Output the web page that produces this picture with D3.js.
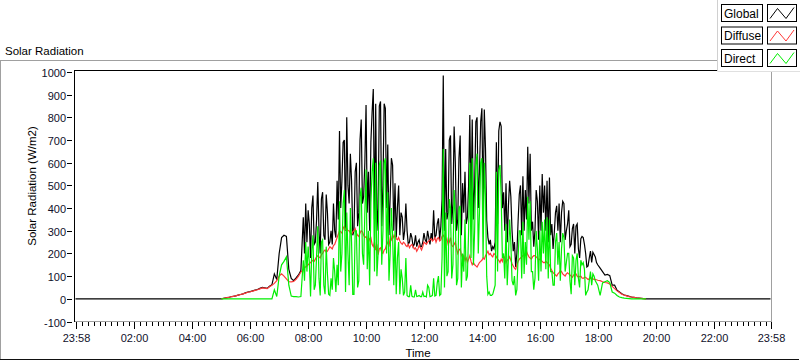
<!DOCTYPE html>
<html><head><meta charset="utf-8">
<script src="https://cdn.jsdelivr.net/npm/d3@7"></script>
<style>
body{margin:0;background:#fff;}
svg{display:block;font-family:"Liberation Sans",Arial,sans-serif;}
</style>
</head><body>
<svg id="c" width="800" height="361"></svg>
<script>
// ---------------- data ----------------
const seriesNames = ["Global", "Diffuse", "Direct"];
const seriesColors = ["#000000", "#ff3838", "#00ee00"];
const yTickValues = [-100, 0, 100, 200, 300, 400, 500, 600, 700, 800, 900, 1000];
const xTickLabels = ["23:58", "02:00", "04:00", "06:00", "08:00", "10:00", "12:00", "14:00", "16:00", "18:00", "20:00", "22:00", "23:58"];
const xTickMinutes = [-2, 120, 240, 360, 480, 600, 720, 840, 960, 1080, 1200, 1320, 1438];
const dayStartMinute = -2, dayEndMinute = 1438;
// sampling segments (minutes of day): 05:00-07:45 every 5 min, 07:50-17:57.5 every 2.5 min, 18:00-19:40 every 5 min
const sampleSegments = [
  { start: 300, step: 5, count: 34 },
  { start: 470, step: 2.5, count: 244 },
  { start: 1080, step: 5, count: 21 }
];

const globalRad = [
  // 05:00-07:45
  0, 2, 4, 6, 9, 11, 13, 16, 19, 22, 26, 30,
  32, 35, 38, 41, 46, 50, 48, 46, 55, 62, 110, 85,
  200, 270, 280, 275, 130, 90, 80, 92, 105, 125,
  // 07:50-07:57.5
  360, 200, 420, 250,
  // 08
  390, 330, 180, 400, 455, 240, 250, 350, 515, 300, 200, 440, 470, 280, 260, 460, 380, 240, 250, 300, 240, 420, 300, 270,
  // 09
  520, 350, 740, 400, 520, 690, 700, 300, 800, 500, 420, 640, 520, 280, 300, 560, 600, 320, 380, 700, 790, 420, 450, 600,
  // 10
  855, 380, 560, 300, 690, 820, 925, 350, 860, 300, 400, 850, 870, 320, 500, 860, 840, 400, 680, 280, 450, 620, 590, 300,
  // 11
  510, 270, 400, 500, 280, 380, 360, 260, 300, 420, 300, 240, 250, 290, 270, 230, 240, 280, 230, 250, 260, 230, 230, 250,
  // 12
  290, 260, 250, 300, 270, 240, 290, 260, 390, 270, 280, 330, 355, 260, 320, 440, 985, 300, 660, 350, 380, 700, 720, 330,
  // 13
  420, 760, 600, 300, 350, 620, 720, 280, 510, 380, 560, 330, 360, 500, 810, 400, 790, 350, 500, 780, 800, 400, 560, 780,
  // 14
  840, 380, 835, 660, 345, 270, 240, 260, 210, 230, 220, 250, 690, 330, 740, 780, 760, 400, 470, 300, 510, 250, 410, 520,
  // 15
  450, 300, 210, 250, 140, 200, 340, 460, 500, 280, 540, 300, 480, 350, 670, 420, 640, 300, 340, 230, 300, 480, 430, 260,
  // 16
  500, 300, 550, 380, 500, 300, 520, 250, 535, 280, 330, 220, 290, 380, 410, 300, 420, 250, 380, 430, 420, 260, 300, 330,
  // 17
  390, 230, 240, 310, 330, 200, 320, 330, 220, 180, 265, 275, 270, 240, 200, 140, 145, 180, 210, 160, 205, 195, 185, 160,
  // 18:00-19:40
  150, 135, 120, 105, 108, 102, 60, 60, 38, 30, 22, 17,
  14, 11, 8, 6, 4, 3, 2, 1, 0
];
const diffuseRad = [
  0, 2, 4, 6, 9, 11, 13, 16, 19, 22, 25, 29,
  31, 34, 37, 40, 44, 48, 47, 45, 53, 60, 68, 80,
  100, 110, 100, 88, 76, 75, 77, 86, 100, 118,
  130, 135, 142, 145,
  150, 155, 160, 165, 170, 165, 175, 185, 190, 185, 180, 195, 200, 210, 215, 205, 210, 220, 230, 225, 220, 235, 240, 255,
  270, 285, 300, 295, 290, 310, 320, 305, 310, 300, 300, 290, 285, 295, 300, 310, 290, 280, 275, 290, 300, 295, 280, 270,
  275, 260, 250, 265, 270, 240, 230, 250, 215, 240, 195, 220, 225, 205, 200, 215, 220, 240, 250, 230, 270, 260, 285, 270,
  280, 265, 260, 270, 255, 245, 240, 250, 245, 235, 230, 240, 225, 235, 240, 230, 220, 225, 210, 220, 235, 225, 215, 230,
  250, 245, 240, 250, 255, 260, 265, 255, 260, 270, 250, 265, 270, 255, 260, 275, 280, 270, 255, 265, 240, 250, 270, 235,
  230, 240, 250, 220, 200, 215, 220, 195, 180, 190, 170, 180, 160, 175, 190, 165, 150, 160, 150, 145, 140, 150, 160, 165,
  170, 180, 175, 190, 200, 210, 195, 200, 190, 185, 200, 195, 185, 175, 170, 160, 175, 165, 190, 180, 160, 170, 175, 185,
  170, 155, 145, 135, 130, 150, 165, 175, 180, 185, 190, 195, 200, 210, 195, 185, 180, 175, 185, 190, 190, 185, 180, 170,
  175, 170, 165, 160, 160, 165, 160, 155, 150, 135, 125, 115, 110, 105, 100, 110, 115, 125, 120, 110, 105, 100, 110, 115,
  110, 105, 100, 95, 105, 110, 110, 100, 95, 98, 100, 92, 90, 95, 95, 90, 85, 88, 90, 92, 88, 86, 85, 84,
  82, 80, 75, 72, 70, 65, 55, 45, 35, 28, 20, 16,
  13, 10, 8, 6, 4, 3, 2, 1, 0
];
const directRad = [
  0, 0, 0, 0, 0, 0, 0, 0, 0, 0, 0, 0,
  0, 0, 0, 0, 0, 0, 0, 0, 0, 0, 40, 10,
  100, 150, 165, 185, 60, 12, 10, 10, 8, 10,
  170, 80, 250, 120,
  230, 160, 10, 210, 280, 40, 60, 190, 320, 90, 15, 250, 260, 60, 20, 230, 110, 20, 15, 90, 40, 180, 120, 30,
  150, 60, 430, 120, 200, 420, 480, 30, 380, 200, 60, 400, 250, 20, 20, 300, 300, 50, 80, 450, 490, 200, 150, 380,
  570, 130, 300, 60, 420, 560, 620, 120, 600, 100, 200, 590, 610, 150, 300, 600, 620, 200, 470, 80, 200, 400, 280, 60,
  300, 20, 180, 250, 20, 130, 90, 15, 30, 180, 15, 10, 10, 60, 12, 8, 8, 40, 10, 12, 15, 10, 10, 30,
  10, 12, 8, 60, 50, 10, 12, 15, 90, 12, 15, 70, 100, 15, 20, 180, 660, 50, 380, 100, 120, 440, 400, 90,
  150, 480, 370, 60, 90, 400, 410, 50, 200, 120, 350, 80, 100, 300, 600, 180, 620, 150, 300, 590, 640, 200, 380, 600,
  620, 180, 600, 450, 100, 20, 30, 15, 15, 20, 40, 60, 560, 120, 570, 590, 450, 180, 200, 90, 330, 60, 180, 350,
  250, 80, 60, 100, 15, 40, 180, 300, 300, 90, 340, 110, 250, 150, 450, 260, 430, 120, 120, 40, 90, 300, 220, 80,
  300, 120, 340, 200, 350, 130, 360, 90, 350, 120, 120, 60, 60, 250, 290, 150, 250, 80, 220, 290, 270, 120, 160, 200,
  200, 80, 20, 190, 180, 60, 170, 200, 90, 50, 170, 150, 160, 130, 15, 30, 40, 80, 120, 60, 110, 100, 80, 70,
  60, 15, 70, 75, 80, 72, 30, 25, 15, 8, 5, 3,
  2, 1, 0, 0, 0, 0, 0, 0, 0
];

// ---------------- drawing ----------------
const svg = d3.select("#c");
const grey = "#a0a0a0";
const textCol = "#10102a";

const x = d3.scaleLinear().domain([dayStartMinute, dayEndMinute]).range([75.5, 770.5]);
const y = d3.scaleLinear().domain([-100, 1000]).range([321.5, 72]);

const sampleMinutes = [];
sampleSegments.forEach(s => { for (let i = 0; i < s.count; i++) sampleMinutes.push(s.start + i * s.step); });

function toPoints(arr) {
  return arr.map((v, i) => ({ m: sampleMinutes[i], v: v }));
}
const globalPts = [{ m: dayStartMinute, v: 0 }]
  .concat(toPoints(globalRad))
  .concat([{ m: dayEndMinute, v: 0 }]);
const diffusePts = toPoints(diffuseRad);
const directPts = toPoints(directRad);

// outer frame
svg.append("line").attr("x1", 0).attr("x2", 717).attr("y1", 60.5).attr("y2", 60.5).attr("stroke", grey);
svg.append("line").attr("x1", 0.5).attr("x2", 0.5).attr("y1", 60.5).attr("y2", 359).attr("stroke", grey);
svg.append("line").attr("x1", 0).attr("x2", 799).attr("y1", 359.5).attr("y2", 359.5).attr("stroke", "#111");

svg.append("text").attr("x", 5).attr("y", 55).attr("font-size", "11.5px").attr("fill", "#000").text("Solar Radiation");

// plot frame
svg.append("line").attr("x1", 74).attr("x2", 772).attr("y1", 70.5).attr("y2", 70.5).attr("stroke", "#000");
svg.append("line").attr("x1", 74.5).attr("x2", 74.5).attr("y1", 70).attr("y2", 322).attr("stroke", "#000");
svg.append("line").attr("x1", 771.5).attr("x2", 771.5).attr("y1", 71).attr("y2", 322).attr("stroke", grey);
svg.append("line").attr("x1", 75).attr("x2", 772).attr("y1", 321.5).attr("y2", 321.5).attr("stroke", grey);

// y axis ticks
const yAxis = svg.append("g");
yTickValues.forEach(v => {
  const yy = Math.round(y(v)) + 0.5;
  yAxis.append("line").attr("x1", 67).attr("x2", 72).attr("y1", yy).attr("y2", yy).attr("stroke", "#000");
  yAxis.append("text").attr("x", 66).attr("y", yy + 4).attr("text-anchor", "end")
    .attr("font-size", "11px").attr("fill", textCol).text(v);
});

// x axis ticks
const xAxis = svg.append("g");
for (let m = 12; m < 1440; m += 12) {
  if (m % 120 === 0) continue;
  const xx = Math.round(x(m)) + 0.5;
  xAxis.append("line").attr("x1", xx).attr("x2", xx).attr("y1", 322).attr("y2", 326).attr("stroke", "#000");
}
xTickMinutes.forEach((m, i) => {
  const xx = Math.round(x(m)) + 0.5;
  xAxis.append("line").attr("x1", xx).attr("x2", xx).attr("y1", 322).attr("y2", 329).attr("stroke", "#000");
  xAxis.append("text").attr("x", xx).attr("y", 341.5).attr("text-anchor", "middle")
    .attr("font-size", "11px").attr("fill", textCol).text(xTickLabels[i]);
});

// axis titles
svg.append("text").attr("x", 418).attr("y", 357).attr("text-anchor", "middle")
  .attr("font-size", "11.5px").attr("fill", "#000").text("Time");
svg.append("text").attr("transform", "translate(36,186) rotate(-90)").attr("text-anchor", "middle")
  .attr("font-size", "11.5px").attr("fill", "#000").text("Solar Radiation (W/m2)");

// data
svg.append("clipPath").attr("id", "clip").append("rect")
  .attr("x", 75).attr("y", 71).attr("width", 696).attr("height", 251);
const line = d3.line().x(d => x(d.m)).y(d => y(d.v));
const plot = svg.append("g").attr("clip-path", "url(#clip)");
[globalPts, diffusePts, directPts].forEach((pts, i) => {
  plot.append("path").attr("d", line(pts)).attr("fill", "none")
    .attr("stroke", seriesColors[i]).attr("stroke-width", 1.2)
    .attr("stroke-linejoin", "miter");
});

// legend
const lg = svg.append("g");
lg.append("rect").attr("x", 718).attr("y", 0).attr("width", 82).attr("height", 71).attr("fill", "#fff");
lg.append("line").attr("x1", 717.5).attr("x2", 717.5).attr("y1", 0).attr("y2", 71).attr("stroke", "#d0d0d0");
lg.append("line").attr("x1", 717.5).attr("x2", 800).attr("y1", 71.5).attr("y2", 71.5).attr("stroke", "#e0e0e0");
const rowsY = [4.5, 27, 49.5];
seriesNames.forEach((name, i) => {
  const ry = rowsY[i];
  lg.append("rect").attr("x", 721.5).attr("y", ry).attr("width", 41).attr("height", 17)
    .attr("fill", "#fff").attr("stroke", "#000");
  lg.append("text").attr("x", 724).attr("y", ry + 13).attr("font-size", "12px").attr("fill", "#000").text(name);
  lg.append("rect").attr("x", 767.5).attr("y", ry).attr("width", 29).attr("height", 17)
    .attr("fill", "#fff").attr("stroke", "#000");
  lg.append("polyline")
    .attr("points", [[770, ry + 14], [777.5, ry + 4], [786, ry + 14], [794, ry + 3]].map(p => p.join(",")).join(" "))
    .attr("fill", "none").attr("stroke", seriesColors[i]).attr("stroke-width", 1);
});
</script>
</body></html>
